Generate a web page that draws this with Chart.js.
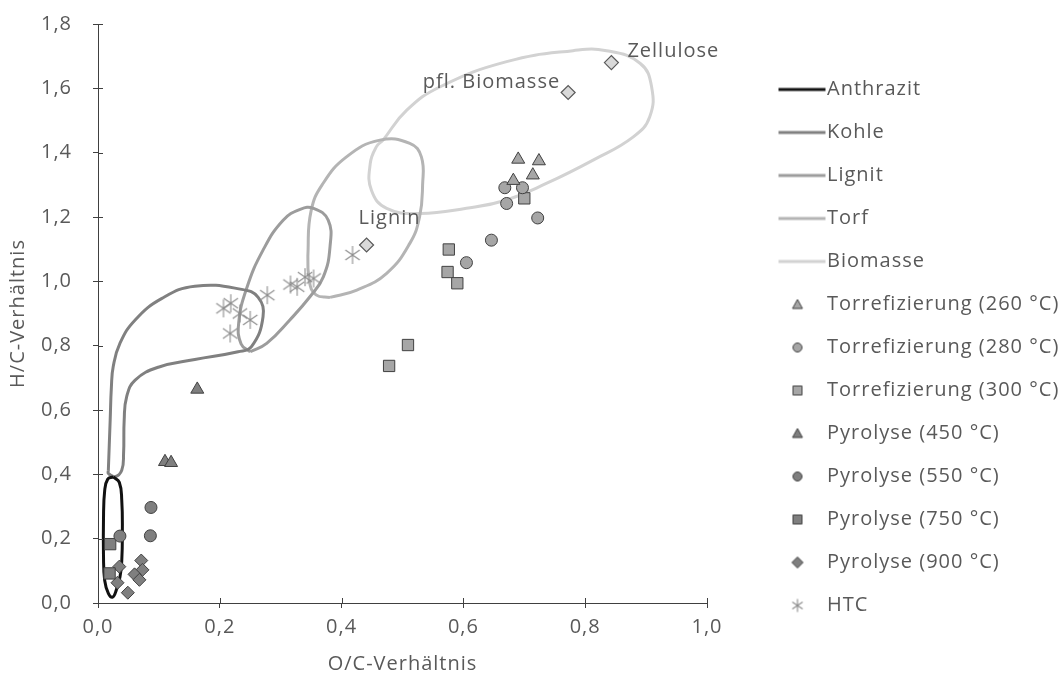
<!DOCTYPE html>
<html>
<head>
<meta charset="utf-8">
<script src="https://cdn.jsdelivr.net/npm/chart.js@4.4.1/dist/chart.umd.min.js"></script>
<style>
  html, body { margin: 0; background: #fff; }
  #wrap { width: 1062px; height: 682px; }
</style>
</head>
<body>
<div id="wrap"><canvas id="vk"></canvas></div>
<script>
// Van-Krevelen-Diagramm (O/C gegen H/C)
const xTicks = [0, 0.2, 0.4, 0.6, 0.8, 1.0];
const yTicks = [0, 0.2, 0.4, 0.6, 0.8, 1.0, 1.2, 1.4, 1.6, 1.8];

// Bereichsgrenzen der Brennstoffe, [O/C, H/C]
const anthrazit = [[0.025,0.392],[0.035,0.375],[0.039,0.32],[0.040,0.22],[0.039,0.13],[0.036,0.08],[0.030,0.04],
  [0.024,0.018],[0.017,0.03],[0.011,0.07],[0.009,0.15],[0.009,0.26],[0.011,0.35],[0.016,0.385],[0.025,0.392]];
const kohle = [[0.017,0.413],[0.020,0.569],[0.022,0.672],[0.025,0.735],[0.036,0.807],[0.061,0.880],[0.105,0.947],
  [0.159,0.985],[0.236,0.975],[0.263,0.950],[0.271,0.890],[0.252,0.797],[0.230,0.781],[0.159,0.757],[0.099,0.733],
  [0.061,0.693],[0.047,0.641],[0.043,0.569],[0.042,0.465],[0.039,0.413],[0.028,0.393],[0.017,0.403],[0.017,0.413]];
const lignit = [[0.250,0.781],[0.277,0.807],[0.315,0.880],[0.348,0.952],[0.370,1.014],[0.381,1.108],[0.378,1.190],
  [0.354,1.227],[0.332,1.224],[0.304,1.190],[0.271,1.097],[0.244,0.978],[0.231,0.87],[0.235,0.805],[0.250,0.781]];
const torf = [[0.381,0.950],[0.425,0.973],[0.474,1.025],[0.512,1.118],[0.528,1.20],[0.533,1.30],[0.531,1.387],
  [0.512,1.429],[0.463,1.439],[0.408,1.387],[0.368,1.30],[0.350,1.22],[0.345,1.10],[0.347,1.00],[0.358,0.958],[0.381,0.950]];
const biomasse = [[0.468,1.439],[0.507,1.532],[0.562,1.605],[0.671,1.683],[0.780,1.717],[0.835,1.717],[0.890,1.678],
  [0.909,1.605],[0.906,1.512],[0.879,1.449],[0.813,1.377],[0.737,1.305],[0.671,1.253],[0.605,1.227],[0.529,1.211],
  [0.474,1.227],[0.449,1.283],[0.447,1.366],[0.457,1.418],[0.468,1.439]];

// Messpunkte
const torref260 = [[0.690,1.379],[0.724,1.374],[0.682,1.313],[0.714,1.330]];
const torref280 = [[0.668,1.291],[0.697,1.291],[0.671,1.242],[0.722,1.197],[0.646,1.128],[0.605,1.058]];
const torref300 = [[0.700,1.258],[0.576,1.099],[0.574,1.029],[0.590,0.994],[0.478,0.737],[0.509,0.802]];
const pyro450 = [[0.163,0.664],[0.110,0.439],[0.120,0.436]];
const pyro550 = [[0.087,0.297],[0.086,0.209],[0.036,0.208]];
const pyro750 = [[0.020,0.183],[0.019,0.092]];
const pyro900 = [[0.071,0.132],[0.073,0.103],[0.060,0.089],[0.068,0.072],[0.035,0.113],[0.032,0.063],[0.049,0.032]];
const htc = [[0.206,0.916],[0.218,0.932],[0.233,0.900],[0.250,0.880],[0.217,0.838],[0.278,0.957],[0.316,0.990],
  [0.327,0.983],[0.340,1.013],[0.354,1.009],[0.418,1.082]];

// Referenzstoffe
const refNames = ['Lignin', 'pfl. Biomasse', 'Zellulose'];
const refPoints = [[0.441,1.113],[0.772,1.587],[0.843,1.680]];

const FONT = 'Open Sans';
const TXT = '#595959';
const AXIS = '#404040';

const pts = arr => arr.map(p => ({ x: p[0], y: p[1] }));
const fmt = v => Number(v).toFixed(1).replace('.', ',');

function makeIcon(draw) {
  const c = document.createElement('canvas');
  c.width = 106; c.height = 20;
  draw(c.getContext('2d'));
  return c;
}
const lineIcon = col => makeIcon(g => {
  g.strokeStyle = col; g.lineWidth = 3;
  g.beginPath(); g.moveTo(58, 10); g.lineTo(105, 10); g.stroke();
});
const markIcon = (shape, fill) => makeIcon(g => {
  const cx = 77, cy = 10;
  g.fillStyle = fill; g.strokeStyle = AXIS; g.lineWidth = 1;
  g.beginPath();
  if (shape === 'triangle') { g.moveTo(cx, cy - 5); g.lineTo(cx + 5, cy + 4); g.lineTo(cx - 5, cy + 4); g.closePath(); }
  else if (shape === 'circle') { g.arc(cx, cy, 4.5, 0, Math.PI * 2); }
  else if (shape === 'rect') { g.rect(cx - 4.5, cy - 4.5, 9, 9); }
  else if (shape === 'rectRot') { g.moveTo(cx, cy - 5.5); g.lineTo(cx + 5.5, cy); g.lineTo(cx, cy + 5.5); g.lineTo(cx - 5.5, cy); g.closePath(); }
  g.fill(); g.stroke();
});
function drawStar(g, cx, cy, r) {
  g.strokeStyle = '#8c8c8c'; g.lineWidth = 1.1;
  g.beginPath();
  g.moveTo(cx, cy - r); g.lineTo(cx, cy + r);
  g.moveTo(cx - r * 0.8, cy - r * 0.55); g.lineTo(cx + r * 0.8, cy + r * 0.55);
  g.moveTo(cx - r * 0.8, cy + r * 0.55); g.lineTo(cx + r * 0.8, cy - r * 0.55);
  g.stroke();
}
const starPoint = (() => {
  const c = document.createElement('canvas');
  c.width = 20; c.height = 20;
  drawStar(c.getContext('2d'), 10, 10, 9);
  return c;
})();
const starIcon = makeIcon(g => drawStar(g, 77, 10, 6.5));

const lineDs = (label, data, col) => ({
  label, data: pts(data), showLine: true, tension: 0.45, borderColor: col, borderWidth: 3,
  pointRadius: 0, pointHoverRadius: 0, fill: false, order: 2, legendIcon: lineIcon(col)
});
const markDs = (label, data, shape, fill, r) => ({
  label, data: pts(data), pointStyle: shape, pointRadius: r, pointHoverRadius: r,
  backgroundColor: fill, borderColor: AXIS, borderWidth: 1, order: 1, legendIcon: markIcon(shape, fill)
});

const datasets = [
  lineDs('Anthrazit', anthrazit, '#111111'),
  lineDs('Kohle', kohle, '#808080'),
  lineDs('Lignit', lignit, '#9c9c9c'),
  lineDs('Torf', torf, '#b4b4b4'),
  lineDs('Biomasse', biomasse, '#d2d2d2'),
  markDs('Torrefizierung (260 °C)', torref260, 'triangle', '#a6a6a6', 7.5),
  markDs('Torrefizierung (280 °C)', torref280, 'circle', '#a6a6a6', 6),
  markDs('Torrefizierung (300 °C)', torref300, 'rect', '#a6a6a6', 8),
  markDs('Pyrolyse (450 °C)', pyro450, 'triangle', '#7f7f7f', 7.5),
  markDs('Pyrolyse (550 °C)', pyro550, 'circle', '#7f7f7f', 6),
  markDs('Pyrolyse (750 °C)', pyro750, 'rect', '#7f7f7f', 8),
  markDs('Pyrolyse (900 °C)', pyro900, 'rectRot', '#7f7f7f', 6.5),
  { label: 'HTC', data: pts(htc), pointStyle: starPoint, pointRadius: 9, order: 1, legendIcon: starIcon },
  { label: 'Referenz', data: pts(refPoints), pointStyle: 'rectRot', pointRadius: 7, pointHoverRadius: 7,
    backgroundColor: '#d9d9d9', borderColor: '#595959', borderWidth: 1.2, order: 0, hideInLegend: true }
];

// etwas Zeichenabstand wie im Original
const spacing = {
  id: 'spacing',
  beforeUpdate(chart) { chart.ctx.letterSpacing = '1px'; },
  beforeDraw(chart) { chart.ctx.letterSpacing = '1px'; }
};

const refLabels = {
  id: 'refLabels',
  afterDatasetsDraw(chart) {
    const { ctx, scales: { x, y } } = chart;
    const offs = [[-8, -27, 'left'], [-8, -10, 'right'], [16, -11, 'left']];
    ctx.save();
    ctx.font = '20px "' + FONT + '"';
    ctx.fillStyle = TXT;
    ctx.textBaseline = 'middle';
    refPoints.forEach((p, i) => {
      ctx.textAlign = offs[i][2];
      ctx.fillText(refNames[i], x.getPixelForValue(p[0]) + offs[i][0], y.getPixelForValue(p[1]) + offs[i][1]);
    });
    ctx.restore();
  }
};

// Teilstriche, die die Achse kreuzen
const innerTicks = {
  id: 'innerTicks',
  afterDraw(chart) {
    const { ctx, scales: { x, y } } = chart;
    ctx.save();
    ctx.strokeStyle = AXIS; ctx.lineWidth = 1;
    ctx.beginPath();
    xTicks.forEach(t => { const px = Math.round(x.getPixelForValue(t)) + 0.5; ctx.moveTo(px, y.bottom); ctx.lineTo(px, y.bottom - 5); });
    yTicks.forEach(t => { const py = Math.round(y.getPixelForValue(t)) + 0.5; ctx.moveTo(x.left, py); ctx.lineTo(x.left + 5, py); });
    ctx.stroke();
    ctx.restore();
  }
};

new Chart(document.getElementById('vk'), {
  type: 'scatter',
  data: { datasets },
  plugins: [spacing, refLabels, innerTicks],
  options: {
    responsive: true,
    maintainAspectRatio: false,
    animation: false,
    layout: { padding: { left: 0, top: 13, bottom: 0, right: 0 } },
    plugins: {
      tooltip: { enabled: false },
      legend: {
        position: 'right',
        align: 'center',
        maxWidth: 355,
        labels: {
          usePointStyle: true,
          pointStyleWidth: 87,
          padding: 23,
          color: TXT,
          font: { family: FONT, size: 20 },
          generateLabels(chart) {
            return chart.data.datasets
              .map((ds, i) => ({ ds, i }))
              .filter(o => !o.ds.hideInLegend)
              .map(o => ({
                text: o.ds.label, pointStyle: o.ds.legendIcon, datasetIndex: o.i, hidden: false,
                fontColor: TXT, lineWidth: 0, strokeStyle: 'rgba(0,0,0,0)', fillStyle: 'rgba(0,0,0,0)'
              }));
          }
        }
      }
    },
    scales: {
      x: {
        type: 'linear', min: 0, max: 1,
        afterBuildTicks: s => { s.ticks = xTicks.map(v => ({ value: v })); },
        afterFit: s => { s.height = 79; },
        ticks: { callback: fmt, color: TXT, font: { family: FONT, size: 20 }, padding: 7, maxRotation: 0 },
        grid: { drawOnChartArea: false, tickLength: 5, color: AXIS },
        border: { color: AXIS, width: 1 },
        title: { display: true, text: 'O/C-Verhältnis', color: TXT, font: { family: FONT, size: 20 }, padding: { top: 7, bottom: 6 } }
      },
      y: {
        type: 'linear', min: 0, max: 1.8,
        afterBuildTicks: s => { s.ticks = yTicks.map(v => ({ value: v })); },
        afterFit: s => { s.width = 98; s.paddingTop = 24; s.paddingBottom = 0; },
        ticks: { callback: fmt, color: TXT, font: { family: FONT, size: 20 }, padding: 21 },
        grid: { drawOnChartArea: false, tickLength: 5, color: AXIS },
        border: { color: AXIS, width: 1 },
        title: { display: true, text: 'H/C-Verhältnis', color: TXT, font: { family: FONT, size: 20 }, padding: { top: 6, bottom: 0 } }
      }
    }
  }
});
</script>
</body>
</html>
